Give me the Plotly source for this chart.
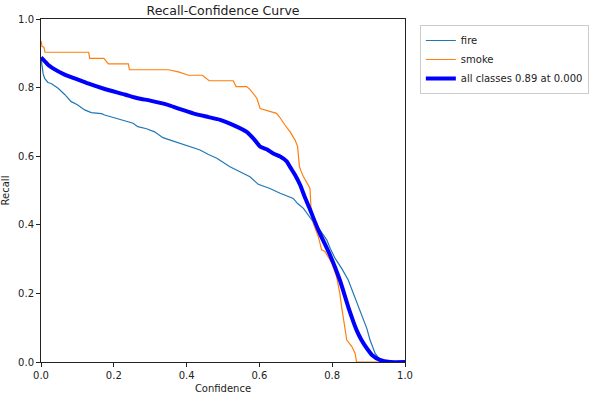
import plotly.graph_objects as go

# ---- data ----
fire_x = [0, 0.003, 0.006, 0.01, 0.019, 0.028, 0.04, 0.047, 0.065, 0.083, 0.1, 0.12, 0.138, 0.166, 0.175,
          0.2, 0.221, 0.253, 0.266, 0.29, 0.312, 0.335, 0.349, 0.382, 0.41, 0.437, 0.46, 0.483, 0.519,
          0.556, 0.574, 0.597, 0.629, 0.657, 0.684, 0.693, 0.705, 0.721, 0.744, 0.766, 0.785, 0.795,
          0.808, 0.826, 0.844, 0.858, 0.876, 0.895, 0.904, 0.918, 0.931, 0.95, 1.0]
fire_y = [0.885, 0.86, 0.84, 0.827, 0.815, 0.812, 0.803, 0.798, 0.78, 0.759, 0.75, 0.735, 0.727, 0.724, 0.72,
          0.713, 0.706, 0.696, 0.686, 0.68, 0.671, 0.654, 0.649, 0.637, 0.628, 0.618, 0.605, 0.594, 0.569,
          0.55, 0.54, 0.518, 0.506, 0.492, 0.48, 0.477, 0.462, 0.448, 0.414, 0.385, 0.356, 0.33,
          0.302, 0.273, 0.239, 0.2, 0.147, 0.098, 0.064, 0.025, 0.006, 0.0, 0.0]

smoke_x = [0, 0.003, 0.008, 0.011, 0.131, 0.134, 0.173, 0.185, 0.24, 0.243, 0.35, 0.38, 0.405, 0.443, 0.462,
           0.528, 0.536, 0.565, 0.574, 0.585, 0.593, 0.602, 0.625, 0.647, 0.655, 0.661, 0.670, 0.685, 0.698,
           0.705, 0.708, 0.710, 0.715, 0.721, 0.734, 0.739, 0.742, 0.748, 0.755, 0.762, 0.771, 0.780, 0.790,
           0.799, 0.812, 0.821, 0.826, 0.831, 0.840, 0.854, 0.863, 0.867, 1.0]
smoke_y = [0.936, 0.92, 0.918, 0.903, 0.903, 0.885, 0.885, 0.869, 0.869, 0.852, 0.852, 0.845, 0.836, 0.836, 0.82,
           0.82, 0.803, 0.803, 0.795, 0.78, 0.769, 0.739, 0.732, 0.725, 0.715, 0.705, 0.691, 0.67, 0.647,
           0.628, 0.60, 0.569, 0.555, 0.540, 0.516, 0.506, 0.443, 0.404, 0.385, 0.365, 0.327, 0.322, 0.305,
           0.288, 0.249, 0.2, 0.16, 0.122, 0.064, 0.045, 0.025, 0.0, 0.0]

all_x = [0, 0.01, 0.02, 0.033, 0.065, 0.1, 0.129, 0.175, 0.23, 0.266, 0.3, 0.344, 0.38, 0.418, 0.46, 0.492,
         0.53, 0.565, 0.585, 0.602, 0.62, 0.638, 0.657, 0.675, 0.684, 0.698, 0.712, 0.725, 0.739, 0.752,
         0.766, 0.794, 0.821, 0.844, 0.867, 0.88, 0.895, 0.91, 0.931, 0.959, 1.0]
all_y = [0.888, 0.877, 0.866, 0.856, 0.838, 0.824, 0.812, 0.796, 0.78, 0.769, 0.762, 0.751, 0.738, 0.725, 0.714,
         0.706, 0.69, 0.671, 0.65, 0.628, 0.62, 0.608, 0.599, 0.585, 0.569, 0.545, 0.516, 0.48, 0.445, 0.41,
         0.375, 0.312, 0.239, 0.161, 0.093, 0.065, 0.04, 0.02, 0.006, 0.0, 0.0]

tick_vals = [0.0, 0.2, 0.4, 0.6, 0.8, 1.0]
tick_text = ["0.0", "0.2", "0.4", "0.6", "0.8", "1.0"]

fig = go.Figure()
fig.add_trace(go.Scatter(x=fire_x, y=fire_y, mode="lines", name="fire",
                         line=dict(color="#1f77b4", width=1.2)))
fig.add_trace(go.Scatter(x=smoke_x, y=smoke_y, mode="lines", name="smoke",
                         line=dict(color="#ff7f0e", width=1.2)))
fig.add_trace(go.Scatter(x=all_x, y=all_y, mode="lines", name="all classes 0.89 at 0.000",
                         line=dict(color="#0000ff", width=4, shape="spline", smoothing=0.6)))

axis_common = dict(range=[0, 1], showgrid=False, zeroline=False, showline=True, linecolor="#222",
                   linewidth=1, mirror=True, ticks="outside", ticklen=4, tickcolor="#222",
                   tickvals=tick_vals, ticktext=tick_text, tickfont=dict(size=10, color="#222"),
                   automargin=False)

fig.update_layout(
    width=593, height=394,
    margin=dict(l=41, r=188, t=19, b=32),
    paper_bgcolor="white", plot_bgcolor="white",
    font=dict(family="DejaVu Sans", color="#222"),
    title=dict(text="Recall-Confidence Curve", x=0.5, xref="paper", xanchor="center",
               y=1, yref="paper", yanchor="bottom", pad=dict(b=4), automargin=False,
               font=dict(size=12.5, color="#222")),
    xaxis=dict(**axis_common, title=dict(text="Confidence", font=dict(size=10))),
    yaxis=dict(**axis_common, title=dict(text="Recall", font=dict(size=10))),
    legend=dict(x=0.993, y=0.9365, xref="container", yref="container", xanchor="right", yanchor="top",
                bordercolor="#cccccc", borderwidth=1, bgcolor="white",
                font=dict(size=10, color="#222"), tracegroupgap=0),
)

# remove the browser's default 8px page margin so the figure sits at the window origin
fig.write_html("out.html", config={"displayModeBar": False},
               post_script="document.body.style.margin='0px';")
